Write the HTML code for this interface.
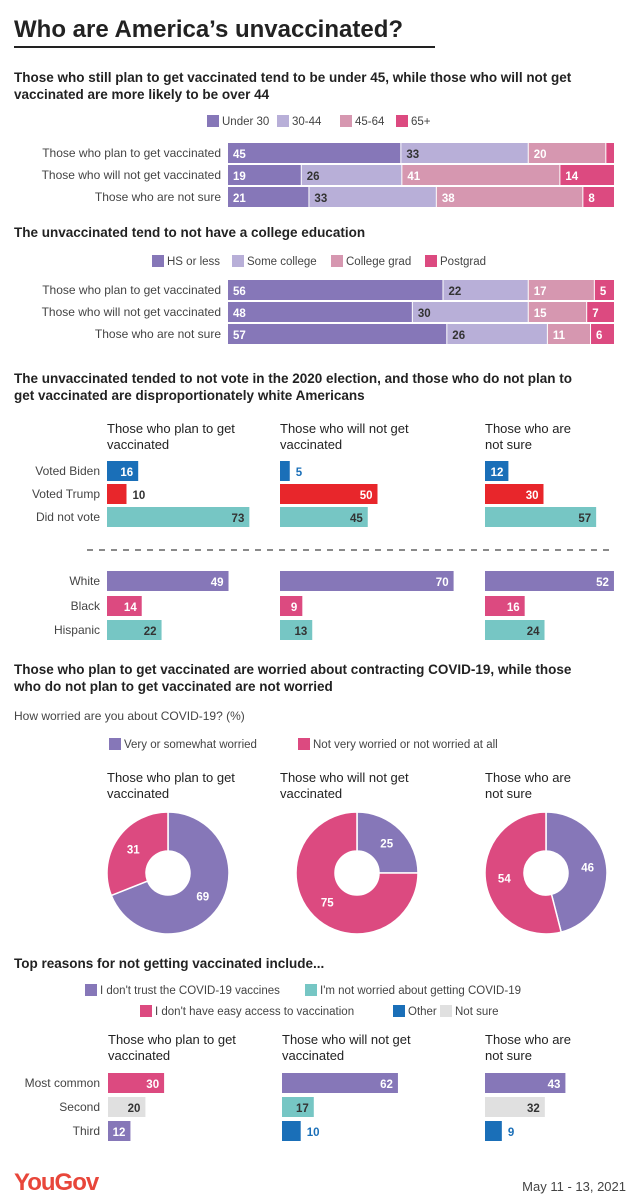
<!DOCTYPE html>
<html><head><meta charset="utf-8"><style>
body{margin:0;background:#fff;}
svg{display:block;font-family:"Liberation Sans",sans-serif;}
</style></head><body>
<svg id="c" width="639" height="1200" viewBox="0 0 639 1200"></svg>
<script>
// ---- data ----
const groups = ["Those who plan to get vaccinated","Those who will not get vaccinated","Those who are not sure"];
const ageCats = ["Under 30","30-44","45-64","65+"];
const agePlan = [45,33,20,2];
const ageNot = [19,26,41,14];
const ageUnsure = [21,33,38,8];
const eduCats = ["HS or less","Some college","College grad","Postgrad"];
const eduPlan = [56,22,17,5];
const eduNot = [48,30,15,7];
const eduUnsure = [57,26,11,6];
const voteCats = ["Voted Biden","Voted Trump","Did not vote"];
const votePlan = [16,10,73];
const voteNot = [5,50,45];
const voteUnsure = [12,30,57];
const raceCats = ["White","Black","Hispanic"];
const racePlan = [49,14,22];
const raceNot = [70,9,13];
const raceUnsure = [52,16,24];
const worryCats = ["Very or somewhat worried","Not very worried or not worried at all"];
const worryPlan = [69,31];
const worryNot = [25,75];
const worryUnsure = [46,54];
const reasonRanks = ["Most common","Second","Third"];
const reasonCats = ["I don't trust the COVID-19 vaccines","I'm not worried about getting COVID-19","I don't have easy access to vaccination","Other","Not sure"];
const reasonPlanVals = [30,20,12];
const reasonPlanCat = [2,4,0];
const reasonNotVals = [62,17,10];
const reasonNotCat = [0,1,3];
const reasonUnsureVals = [43,32,9];
const reasonUnsureCat = [0,4,3];

const NS="http://www.w3.org/2000/svg";
const svg=document.getElementById('c');
function el(tag,attrs,parent){const e=document.createElementNS(NS,tag);for(const k in attrs)e.setAttribute(k,attrs[k]);(parent||svg).appendChild(e);return e;}
function txt(x,y,s,size,opts){opts=opts||{};const t=el('text',{x:x,y:y,'font-size':size,fill:opts.fill||'#333','font-weight':opts.bold?'bold':'normal','text-anchor':opts.anchor||'start'});t.textContent=s;return t;}

const PURPLE='#8677b8',LPURPLE='#b8afd8',LPINK='#d697b0',PINK='#dc4a80',BLUE='#1a6fb8',RED='#e8262b',TEAL='#76c6c4',GRAY='#e0e0e0';
const stackCols=[PURPLE,LPURPLE,LPINK,PINK];
const stackTxt=['#fff','#333','#fff','#fff'];
const reasonCols=[PURPLE,TEAL,PINK,BLUE,GRAY];
const darkText=c=>(c===TEAL||c===GRAY||c===LPURPLE);

// header
let t=txt(14,37,"Who are America\u2019s unvaccinated?",24,{bold:true,fill:'#222'});

let ln=el('rect',{x:14,y:46,width:421,height:2,fill:'#222'});


function legend(items,cols,xs,y,name){
  items.forEach((s,i)=>{
    const g=el('g',{});
    
    
    el('rect',{x:xs[i],y:y-6,width:12,height:12,fill:cols[i]},g);
    const tt=txt(xs[i]+15,y+4,s,11.5,{fill:'#444'});g.appendChild(tt);
  });
}

// ---- stacked sections ----
function stacked(series,y0,name){
  const x0=228,W=386;
  series.forEach((vals,r)=>{
    const y=y0+r*22;
    const l=txt(221,y+14,groups[r],12,{anchor:'end',fill:'#444'});
    
    let x=x0;const tot=vals.reduce((a,b)=>a+b,0);
    const usable=W-(vals.length-1);
    vals.forEach((v,i)=>{
      const w=v/tot*usable;
      const b=el('rect',{x:x,y:y,width:w,height:20,fill:stackCols[i]});
      
      
      if(w>12){txt(x+5,y+15,String(v),11.5,{fill:stackTxt[i],bold:true});}
      x+=w+1;
    });
  });
}
txt(14,82,"Those who still plan to get vaccinated tend to be under 45, while those who will not get",13.5,{bold:true,fill:'#222'});
txt(14,99,"vaccinated are more likely to be over 44",13.5,{bold:true,fill:'#222'});
legend(ageCats,stackCols,[207,277,340,396],121,'age');
stacked([agePlan,ageNot,ageUnsure],143,'age');

txt(14,237,"The unvaccinated tend to not have a college education",13.5,{bold:true,fill:'#222'});
legend(eduCats,stackCols,[152,232,331,425],261,'edu');
stacked([eduPlan,eduNot,eduUnsure],280,'edu');

// ---- grouped bar panels ----
const colX=[107,280,485];
function colHeaders(y){
  const h=[["Those who plan to get","vaccinated"],["Those who will not get","vaccinated"],["Those who are","not sure"]];
  h.forEach((p,i)=>{txt(colX[i],y,p[0],13,{fill:'#222'});txt(colX[i],y+16,p[1],13,{fill:'#222'});});
}
function panel(cats,seriesArr,colorFn,ys,scale,name){
  cats.forEach((c,r)=>{txt(100,ys[r]+14,c,12,{anchor:'end',fill:'#444'});});
  seriesArr.forEach((vals,ci)=>{
    vals.forEach((v,r)=>{
      const col=colorFn(ci,r);const w=v*scale;const x=colX[ci],y=ys[r];
      const b=el('rect',{x:x,y:y,width:w,height:20,fill:col});
      
      
      if(w>=21){txt(x+w-5,y+15,String(v),11.5,{anchor:'end',bold:true,fill:darkText(col)?'#333':'#fff'});}
      else{txt(x+w+6,y+15,String(v),11.5,{bold:true,fill:col===BLUE?BLUE:'#333'});}
    });
  });
}
txt(14,383,"The unvaccinated tended to not vote in the 2020 election, and those who do not plan to",13.5,{bold:true,fill:'#222'});
txt(14,400,"get vaccinated are disproportionately white Americans",13.5,{bold:true,fill:'#222'});
colHeaders(433);
const voteColors=[BLUE,RED,TEAL];
panel(voteCats,[votePlan,voteNot,voteUnsure],(c,r)=>voteColors[r],[461,484,507],1.95,'vote');
const dl=el('line',{x1:87,y1:550,x2:614,y2:550,stroke:'#444','stroke-width':1.2,'stroke-dasharray':'6,6'});

const raceColors=[PURPLE,PINK,TEAL];
panel(raceCats,[racePlan,raceNot,raceUnsure],(c,r)=>raceColors[r],[571,596,620],2.48,'race');

// ---- donuts ----
txt(14,674,"Those who plan to get vaccinated are worried about contracting COVID-19, while those",13.5,{bold:true,fill:'#222'});
txt(14,691,"who do not plan to get vaccinated are not worried",13.5,{bold:true,fill:'#222'});
txt(14,720,"How worried are you about COVID-19? (%)",12,{fill:'#444'});
legend(worryCats,[PURPLE,PINK],[109,298],744,'worry');
const dh=[["Those who plan to get","vaccinated"],["Those who will not get","vaccinated"],["Those who are","not sure"]];
const dx=[107,280,485];
dh.forEach((p,i)=>{txt(dx[i],782,p[0],13,{fill:'#222'});txt(dx[i],798,p[1],13,{fill:'#222'});});
const centers=[168,357,546];
[worryPlan,worryNot,worryUnsure].forEach((vals,ci)=>{
  const cx=centers[ci],cy=873,R=61,r0=22;let a0=0;const tot=vals[0]+vals[1];
  vals.forEach((v,i)=>{
    const a1=a0+v/tot*2*Math.PI;
    const p=(a,rr)=>[cx+rr*Math.sin(a),cy-rr*Math.cos(a)];
    const large=(a1-a0)>Math.PI?1:0;
    const [x1,y1]=p(a0,R),[x2,y2]=p(a1,R),[x3,y3]=p(a1,r0),[x4,y4]=p(a0,r0);
    const s=el('path',{d:`M${x1},${y1}A${R},${R} 0 ${large} 1 ${x2},${y2}L${x3},${y3}A${r0},${r0} 0 ${large} 0 ${x4},${y4}Z`,fill:i===0?PURPLE:PINK,stroke:'#fff','stroke-width':1.5});
    
    
    const [lx,ly]=p((a0+a1)/2,42);
    txt(lx,ly+4,String(v),11.5,{anchor:'middle',fill:'#fff',bold:true});
    a0=a1;
  });
});

// ---- reasons ----
txt(14,968,"Top reasons for not getting vaccinated include...",13.5,{bold:true,fill:'#222'});
(function(){
  const pos=[[85,990],[305,990],[140,1011],[393,1011],[440,1011]];
  reasonCats.forEach((s,i)=>{
    const g=el('g',{});
    
    
    el('rect',{x:pos[i][0],y:pos[i][1]-6,width:12,height:12,fill:reasonCols[i]},g);
    g.appendChild(txt(pos[i][0]+15,pos[i][1]+4,s,11.5,{fill:'#444'}));
  });
})();
colX[0]=108;colX[1]=282;colX[2]=485;
colHeaders(1044);
const rcats=[reasonPlanCat,reasonNotCat,reasonUnsureCat];
panel(reasonRanks,[reasonPlanVals,reasonNotVals,reasonUnsureVals],(c,r)=>reasonCols[rcats[c][r]],[1073,1097,1121],1.87,'reason');

// footer
t=txt(14,1190,"YouGov",24,{bold:true,fill:'#e8463a'});

t.setAttribute('letter-spacing','-1');
txt(626,1191,"May 11 - 13, 2021",13,{anchor:'end',fill:'#444'});
</script>
</body></html>
